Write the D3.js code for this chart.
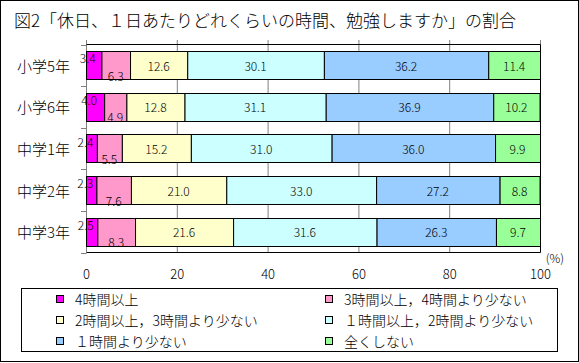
<!DOCTYPE html>
<html>
<head>
<meta charset="utf-8">
<script src="https://cdn.jsdelivr.net/npm/d3@7"></script>
<style>
  body { margin: 0; background: #fff; }
  text { font-family: "Noto Sans CJK JP", "Noto Sans", sans-serif; font-weight: 300; fill: #000; }
</style>
</head>
<body>
<div id="chart"></div>
<script>
// data
const categories = ["小学5年", "小学6年", "中学1年", "中学2年", "中学3年"];
const seriesNames = ["4時間以上", "3時間以上，4時間より少ない", "2時間以上，3時間より少ない",
  "１時間以上，2時間より少ない", "１時間より少ない", "全くしない"];
const v4plus  = [3.4, 4.0, 2.4, 2.3, 2.5];
const v3to4   = [6.3, 4.9, 5.5, 7.6, 8.3];
const v2to3   = [12.6, 12.8, 15.2, 21.0, 21.6];
const v1to2   = [30.1, 31.1, 31.0, 33.0, 31.6];
const vUnder1 = [36.2, 36.9, 36.0, 27.2, 26.3];
const vNone   = [11.4, 10.2, 9.9, 8.8, 9.7];
const xTicks = [0, 20, 40, 60, 80, 100];
const colors = ["#ff00ff", "#ff99cc", "#ffffcc", "#ccffff", "#99ccff", "#99ff99"];

let width = 579, height = 363;
let svg = d3.select("#chart").append("svg")
  .attr("width", width)
  .attr("height", height)

let allSeries = [v4plus, v3to4, v2to3, v1to2, vUnder1, vNone];
let rows = categories.map(function(c, i) {
  let r = { cat: c };
  seriesNames.forEach(function(s, j) { r[s] = allSeries[j][i]; });
  return r;
});
let stacked = d3.stack().keys(seriesNames)(rows);

let x = d3.scaleLinear().domain([0, 100]).range([86, 540]);
let y = d3.scaleBand().domain(categories).range([44.5, 252.5])
  .paddingInner(0.32).paddingOuter(0.16);
let yb = d3.scaleBand().domain(categories).range([44.5, 252.5]);

// outer frame
svg.append("rect")
  .attr("x", 0.5).attr("y", 0.5)
  .attr("width", width - 1).attr("height", height - 2)
  .attr("fill", "none").attr("stroke", "#000");

// title
svg.append("text")
  .attr("x", 14).attr("y", 27)
  .style("font-size", "17px")
  .text("図2「休日、１日あたりどれくらいの時間、勉強しますか」の割合");

// gridlines + top ticks
svg.append("g").selectAll("line").data(xTicks).enter().append("line")
  .attr("x1", d => x(d) + 0.5).attr("x2", d => x(d) + 0.5)
  .attr("y1", 40).attr("y2", d => (d === 0 || d === 100) ? 44.5 : 252.5)
  .attr("stroke", "#808080");

// left axis
svg.append("line")
  .attr("x1", x(0) + 0.5).attr("x2", x(0) + 0.5)
  .attr("y1", 40).attr("y2", 252.5)
  .attr("stroke", "#808080");
let bounds = categories.map(c => yb(c)).concat([yb.range()[1]]);
svg.append("g").selectAll("line").data(bounds).enter().append("line")
  .attr("x1", x(0) - 5).attr("x2", x(0) + 0.5)
  .attr("y1", d => Math.round(d) + 0.5).attr("y2", d => Math.round(d) + 0.5)
  .attr("stroke", "#808080");

// plot border top / right / bottom
svg.append("path")
  .attr("d", "M" + (x(0) + 0.5) + "," + 44.5 + "H" + (x(100) + 0.5) + "V" + 252.5 + "H" + (x(0) + 0.5))
  .attr("fill", "none").attr("stroke", "#000");

// bars
let layers = svg.append("g").selectAll("g").data(stacked).enter().append("g")
  .attr("fill", (d, i) => colors[i]);
layers.selectAll("rect").data(d => d).enter().append("rect")
  .attr("x", d => x(d[0]) + 0.5)
  .attr("y", d => Math.round(y(d.data.cat)) + 0.5)
  .attr("width", d => x(d[1]) - x(d[0]))
  .attr("height", Math.round(y.bandwidth()))
  .attr("stroke", "#000");

// value labels (small ones nudged like the original)
let lblDx = [-6, 0, 0, 0, 0, 0];
let lblDy = [-7.5, 10, 0, 0, 0, 0];
layers.each(function(layer, i) {
  d3.select(this).selectAll("text").data(layer).enter().append("text")
    .attr("x", d => x((d[0] + d[1]) / 2) + lblDx[i])
    .attr("y", d => y(d.data.cat) + y.bandwidth() / 2 + lblDy[i])
    .attr("text-anchor", "middle")
    .attr("dominant-baseline", "central")
    .attr("fill", "#000")
    .style("font-size", "12px")
    .text(d => (d[1] - d[0]).toFixed(1));
});

// category labels
svg.append("g").selectAll("text").data(categories).enter().append("text")
  .attr("x", 70)
  .attr("y", d => y(d) + y.bandwidth() / 2)
  .attr("text-anchor", "end")
  .attr("dominant-baseline", "central")
  .style("font-size", "15px")
  .text(d => d);

// x axis labels
let xAxis = svg.append("g")
  .attr("transform", "translate(0,270)")
  .call(d3.axisBottom(x).tickValues(xTicks).tickSize(0).tickPadding(0));
xAxis.select(".domain").remove();
xAxis.selectAll("text")
  .attr("fill", "#000")
  .style("font-family", "\"Noto Sans CJK JP\", sans-serif")
  .style("font-weight", "300")
  .style("font-size", "13px");

svg.append("text")
  .attr("x", 555).attr("y", 263)
  .attr("text-anchor", "middle")
  .style("font-size", "12px")
  .text("(%)");

// legend
svg.append("rect")
  .attr("x", 21.5).attr("y", 288.5)
  .attr("width", 536).attr("height", 63)
  .attr("fill", "none").attr("stroke", "#000");
let leg = svg.append("g").selectAll("g").data(seriesNames).enter().append("g")
  .attr("transform", (d, i) => "translate(" + (i % 2 === 0 ? 56 : 325) + "," + (299 + Math.floor(i / 2) * 21) + ")");
leg.append("rect")
  .attr("x", 0.5).attr("y", -3.5)
  .attr("width", 7).attr("height", 7)
  .attr("fill", (d, i) => colors[i])
  .attr("stroke", "#000");
leg.append("text")
  .attr("x", 19).attr("y", 0)
  .attr("dominant-baseline", "central")
  .style("font-size", "14px")
  .text(d => d);
</script>
</body>
</html>
